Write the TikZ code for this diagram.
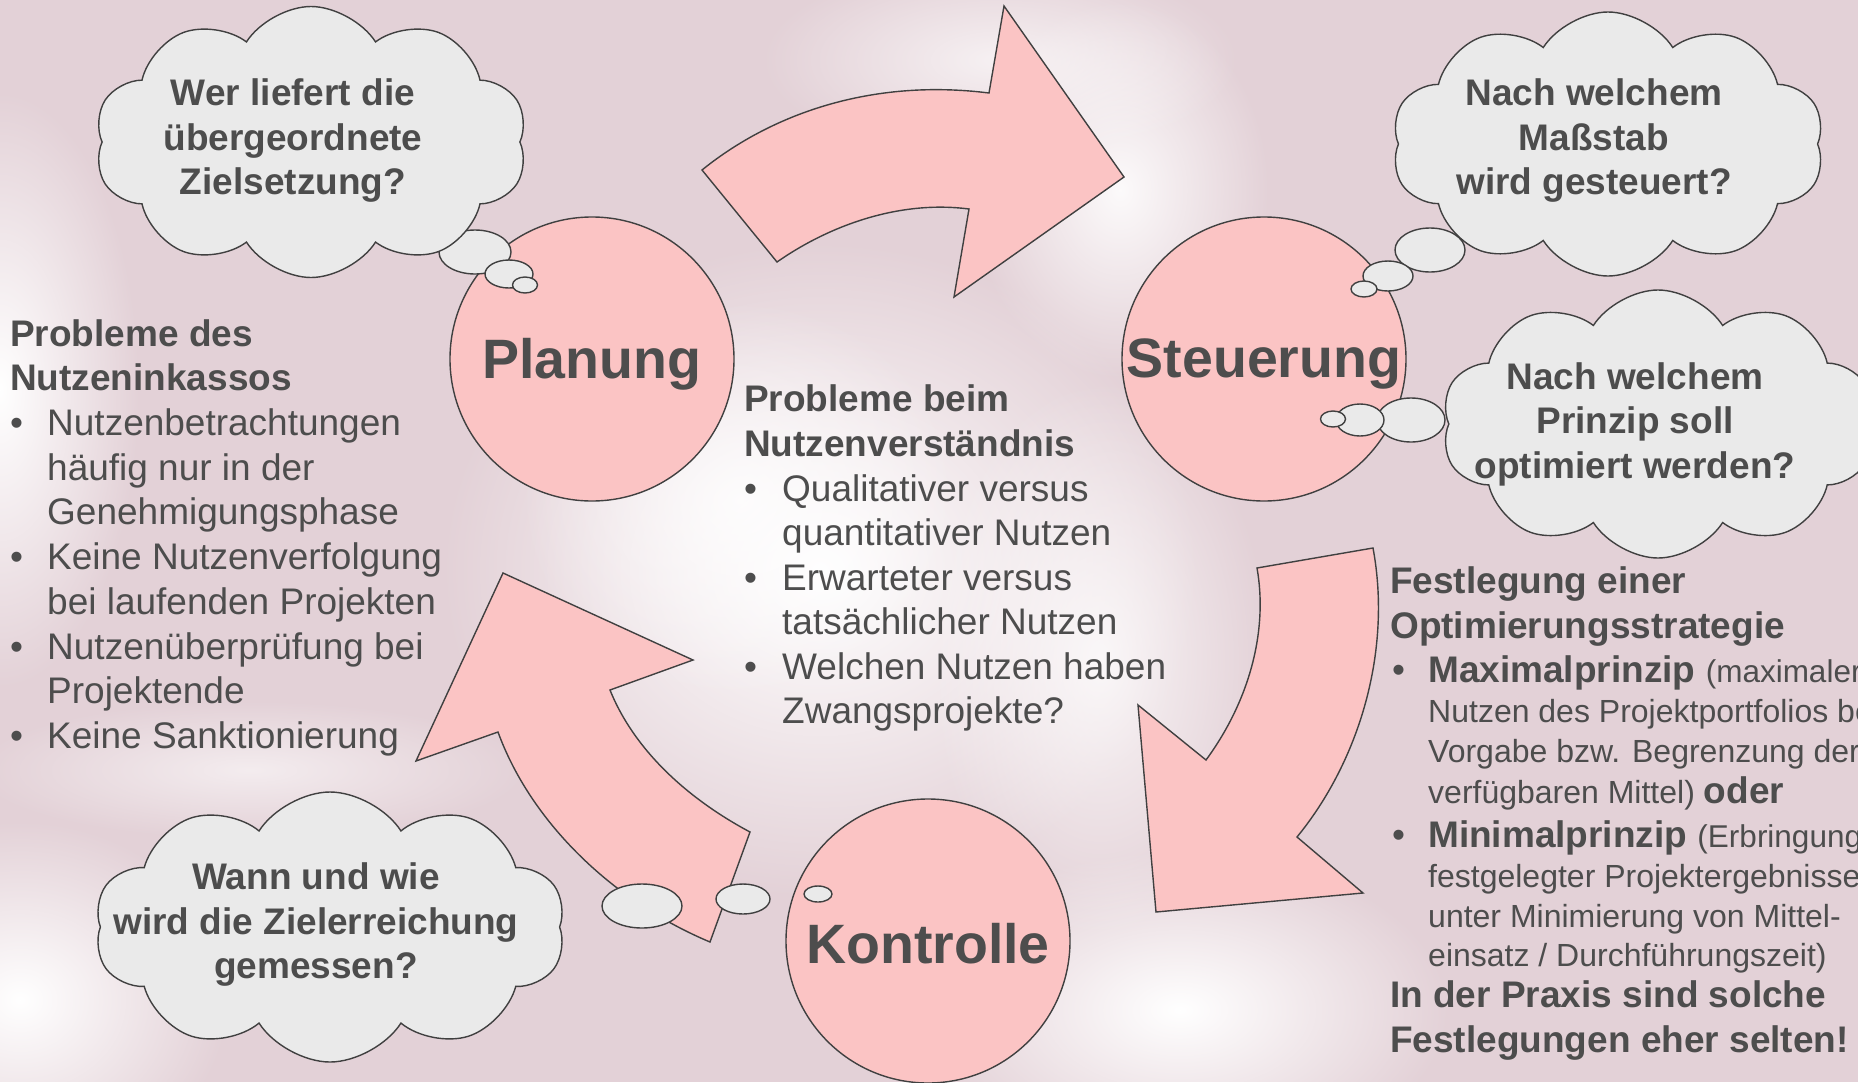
\documentclass[tikz,border=0pt]{standalone}
\usepackage{fontspec}
\setmainfont{Liberation Sans}
\usetikzlibrary{shapes.symbols,fadings}
\definecolor{bg}{RGB}{227,209,215}
\definecolor{txt}{RGB}{77,77,77}
\definecolor{pinkf}{RGB}{251,196,196}
\definecolor{cloudf}{RGB}{234,234,234}
\definecolor{edge}{RGB}{64,64,64}
\tikzfading[name=softfade, inner color=transparent!0, outer color=transparent!100]
\tikzset{
  thought/.style={cloud, cloud puffs=10, cloud puff arc=115, aspect=1.6, draw=edge, line width=1.4pt, fill=cloudf, inner sep=0pt},
  bubble/.style={draw=edge, line width=1.4pt, fill=cloudf},
  phase/.style={circle, draw=edge, line width=1.4pt, fill=pinkf, minimum size=284pt, inner sep=0pt},
  blockarrow/.style={draw=edge, line width=1.4pt, fill=pinkf, line join=miter},
  phasetext/.style={text=txt, inner sep=0pt, font=\fontsize{55.5}{60}\selectfont\bfseries},
  cloudtext/.style={text=txt, inner sep=0pt, align=center, font=\fontsize{37}{44.5}\selectfont\bfseries},
  ln/.style={anchor=base west, inner sep=0pt, text=txt, font=\fontsize{37}{44}\selectfont},
  lnb/.style={ln, font=\fontsize{37}{44}\selectfont\bfseries},
  lns/.style={ln, font=\fontsize{32}{40}\selectfont},
  glow/.style={white, path fading=softfade}
}
\begin{document}
\begin{tikzpicture}[x=1pt,y=-1pt]
\useasboundingbox (0,0) rectangle (1858,1082);
\clip (0,0) rectangle (1858,1082);
% background
\fill[bg] (0,0) rectangle (1858,1082);
\fill[glow] (820,570) ellipse [x radius=380, y radius=330];
\fill[glow, opacity=0.8] (740,500) ellipse [x radius=220, y radius=200];
\fill[glow, opacity=0.9] (1120,190) ellipse [x radius=150, y radius=190];
\fill[glow, opacity=0.7] (1000,60) ellipse [x radius=240, y radius=100];
\fill[glow] (1180,1010) ellipse [x radius=270, y radius=160];
\fill[glow, opacity=0.8] (1100,660) ellipse [x radius=170, y radius=280];
\fill[glow] (0,390) ellipse [x radius=140, y radius=300];
\fill[glow] (20,1000) ellipse [x radius=210, y radius=180];
\fill[glow, opacity=0.6] (250,770) ellipse [x radius=280, y radius=70];

% block arrows
\draw[blockarrow] (702,170) .. controls (770,115) and (870,78) .. (989,93)
  -- (1004,6) -- (1124,177) -- (954,297) -- (969,209)
  .. controls (900,200) and (830,225) .. (777,262) -- cycle;
\draw[blockarrow] (1257,568) -- (1373,548) .. controls (1392,650) and (1360,760) .. (1297,837)
  -- (1363,893) -- (1156,912) -- (1138,705) -- (1206,760)
  .. controls (1250,700) and (1268,630) .. (1257,568) -- cycle;
\draw[blockarrow] (503,573) -- (693,660) -- (610,690) .. controls (635,752) and (690,800) .. (750,832)
  -- (710,942) .. controls (610,900) and (530,820) .. (498,732) -- (416,761) -- cycle;

% phases
\node[phase] (plan) at (592,359) {};
\node[phase] (steu) at (1264,359) {};
\node[phase] (kont) at (928,941) {};
\node[phasetext] (plant) at (592,364) {Planung};
\node[phasetext] (steut) at (1264,364) {Steuerung};
\node[phasetext] (kontt) at (928,944) {Kontrolle};

% thought bubbles
\draw[bubble] (475,252) ellipse [x radius=36, y radius=22];
\draw[bubble] (509,274) ellipse [x radius=24, y radius=14];
\draw[bubble] (525,285) ellipse [x radius=12.5, y radius=8];
\draw[bubble] (1430,250) ellipse [x radius=35, y radius=22];
\draw[bubble] (1388,276) ellipse [x radius=25, y radius=15];
\draw[bubble] (1364,289) ellipse [x radius=13, y radius=8];
\draw[bubble] (1411,420) ellipse [x radius=34, y radius=22];
\draw[bubble] (1360,420) ellipse [x radius=24, y radius=16];
\draw[bubble] (1333,419) ellipse [x radius=12.5, y radius=8];
\draw[bubble] (642,906) ellipse [x radius=40, y radius=22];
\draw[bubble] (743,899) ellipse [x radius=27, y radius=15];
\draw[bubble] (818,894) ellipse [x radius=14, y radius=8];

% clouds
\node[thought, minimum width=433pt, minimum height=271pt] (c1) at (311,142) {};
\node[thought, minimum width=433pt, minimum height=264pt] (c2) at (1608,144) {};
\node[thought, minimum width=433pt, minimum height=268pt] (c3) at (1658,424) {};
\node[thought, minimum width=471pt, minimum height=270pt] (c4) at (330,927) {};
\node[cloudtext] (c1t) at (293,141) {Wer liefert die\\übergeordnete\\Zielsetzung?};
\node[cloudtext] (c2t) at (1594,141) {Nach welchem\\Maßstab\\wird gesteuert?};
\node[cloudtext] (c3t) at (1635,424) {Nach welchem\\Prinzip soll\\optimiert werden?};
\node[cloudtext] (c4t) at (316,925) {Wann und wie\\wird die Zielerreichung\\gemessen?};

% left text block
\node[lnb] (l1) at (10,346) {Probleme des};
\node[lnb] (l2) at (10,390) {Nutzeninkassos};
\node[ln] (lb1) at (10,435) {•};
\node[ln] (l3) at (47,435) {Nutzenbetrachtungen};
\node[ln] (l4) at (47,480) {häufig nur in der};
\node[ln] (l5) at (47,524) {Genehmigungsphase};
\node[ln] (lb2) at (10,569) {•};
\node[ln] (l6) at (47,569) {Keine Nutzenverfolgung};
\node[ln] (l7) at (47,614) {bei laufenden Projekten};
\node[ln] (lb3) at (10,659) {•};
\node[ln] (l8) at (47,659) {Nutzenüberprüfung bei};
\node[ln] (l9) at (47,703) {Projektende};
\node[ln] (lb4) at (10,748) {•};
\node[ln] (l10) at (47,748) {Keine Sanktionierung};

% center text block
\node[lnb] (m1) at (744,411) {Probleme beim};
\node[lnb] (m2) at (744,456) {Nutzenverständnis};
\node[ln] (mb1) at (744,501) {•};
\node[ln] (m3) at (782,501) {Qualitativer versus};
\node[ln] (m4) at (782,545) {quantitativer Nutzen};
\node[ln] (mb2) at (744,590) {•};
\node[ln] (m5) at (782,590) {Erwarteter versus};
\node[ln] (m6) at (782,634) {tatsächlicher Nutzen};
\node[ln] (mb3) at (744,679) {•};
\node[ln] (m7) at (782,679) {Welchen Nutzen haben};
\node[ln] (m8) at (782,723) {Zwangsprojekte?};

% right text block (runs past the right edge, as in the reference)
\node[lnb] (r1) at (1390,593) {Festlegung einer};
\node[lnb] (r2) at (1390,638) {Optimierungsstrategie};
\node[ln] (rb1) at (1392,682) {•};
\node[lnb] (r3) at (1428,682) {Maximalprinzip {\fontsize{31.5}{40}\selectfont\mdseries (maximaler}};
\node[lns] (r4) at (1428,722) {Nutzen des Projektportfolios bei};
\node[lns] (r5) at (1428,762) {Vorgabe bzw. Begrenzung der};
\node[lns] (r6) at (1428,803) {verfügbaren Mittel) {\fontsize{37}{44}\selectfont\bfseries oder}};
\node[ln] (rb2) at (1392,847) {•};
\node[lnb] (r7) at (1428,847) {Minimalprinzip {\fontsize{31.5}{40}\selectfont\mdseries (Erbringung}};
\node[lns] (r8) at (1428,887) {festgelegter Projektergebnisse};
\node[lns] (r9) at (1428,927) {unter Minimierung von Mittel-};
\node[lns] (r10) at (1428,966) {einsatz / Durchführungszeit)};
\node[lnb] (r11) at (1390,1007) {In der Praxis sind solche};
\node[lnb] (r12) at (1390,1052) {Festlegungen eher selten!};
\end{tikzpicture}
\end{document}
